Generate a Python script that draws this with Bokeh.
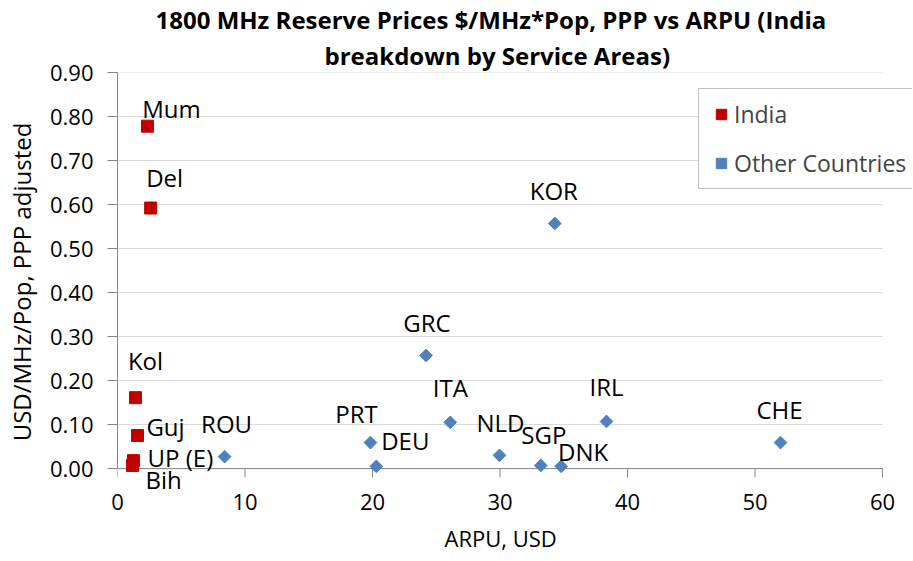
import math
from bokeh.plotting import figure
from bokeh.models import Label, Legend, LegendItem, Range1d, NumeralTickFormatter, FixedTicker, Title, ColumnDataSource
from bokeh.embed import file_html
from bokeh.resources import INLINE

# Data
india_names = ["Mum", "Del", "Kol", "Guj", "UP (E)", "Bih"]
india_arpu = [2.35, 2.6, 1.41, 1.57, 1.25, 1.18]
india_price = [0.778, 0.592, 0.161, 0.075, 0.018, 0.007]

other_names = ["ROU", "PRT", "DEU", "GRC", "ITA", "NLD", "SGP", "DNK", "KOR", "IRL", "CHE"]
other_arpu = [8.4, 19.84, 20.3, 24.2, 26.1, 29.96, 33.2, 34.8, 34.3, 38.35, 52.0]
other_price = [0.027, 0.059, 0.005, 0.257, 0.105, 0.030, 0.007, 0.005, 0.557, 0.107, 0.059]

x_ticks = [0, 10, 20, 30, 40, 50, 60]
y_ticks = [0.0, 0.1, 0.2, 0.3, 0.4, 0.5, 0.6, 0.7, 0.8, 0.9]

title_lines = ["1800 MHz Reserve Prices $/MHz*Pop, PPP vs ARPU (India", "breakdown by Service Areas)"]
x_label = "ARPU, USD"
y_label = "USD/MHz/Pop, PPP adjusted"

# label offsets (styling, screen px)
india_dx = [24, 14, 10, 28, 47, 31]
india_dy = [18, 31, 37, 9, 3, -14]
other_dx = [2, -14, 29, 1, 0, 1, 3, 22, -1, 0, -1]
other_dy = [33, 29, 26, 33, 35, 33, 31, 15, 33, 35, 33]

FONT = "Open Sans"
AXIS_GREY = "#868686"
GRID_GREY = "#d9d9d9"
PX_PER_UNIT_Y = 441.0
TICK_LEN = 9

p = figure(width=912, height=560, output_backend="svg", toolbar_location=None,
           x_range=Range1d(0, 60 * (912 - 117) / 765.0), y_range=Range1d(-23 / PX_PER_UNIT_Y, 0.9),
           min_border_left=117, min_border_right=0, min_border_top=4, min_border_bottom=68)
p.title.visible = False

t2 = Title(text=title_lines[1], align="left", text_font=FONT,
           text_font_size="24px", text_font_style="bold", text_color="#000000",
           offset=207, standoff=2)
t1 = Title(text=title_lines[0], align="left", text_font=FONT,
           text_font_size="24px", text_font_style="bold", text_color="#000000",
           offset=38, standoff=0)
p.add_layout(t2, "above")
p.add_layout(t1, "above")

xt = Title(text=x_label, align="left", text_font=FONT, text_font_size="22px",
           text_font_style="normal", text_color="#000000", offset=327, standoff=16)
p.add_layout(xt, "below")

p.outline_line_color = None
p.xgrid.grid_line_color = None
p.ygrid.grid_line_color = None

# gridlines and x axis line at y = 0, spanning the tick range only
p.segment(x0=x_ticks[0], x1=x_ticks[-1], y0=y_ticks[1:], y1=y_ticks[1:], line_color=GRID_GREY, line_width=1)
p.segment(x0=x_ticks[0], x1=x_ticks[-1], y0=y_ticks[0], y1=y_ticks[0], line_color=AXIS_GREY, line_width=1)
p.segment(x0=x_ticks, x1=x_ticks, y0=[y_ticks[0]] * len(x_ticks),
          y1=[y_ticks[0] - TICK_LEN / PX_PER_UNIT_Y] * len(x_ticks), line_color=AXIS_GREY, line_width=1)

p.xaxis.ticker = FixedTicker(ticks=x_ticks)
p.yaxis.ticker = FixedTicker(ticks=y_ticks)
p.yaxis.formatter = NumeralTickFormatter(format="0.00")
p.yaxis.bounds = (y_ticks[0], y_ticks[-1])
p.xaxis.bounds = (x_ticks[0], x_ticks[-1])
for ax in (p.xaxis, p.yaxis):
    ax.minor_tick_line_color = None
    ax.major_label_text_font = FONT
    ax.major_label_text_font_size = "22px"
    ax.major_label_text_color = "#000000"
    ax.axis_label_text_font = FONT
    ax.axis_label_text_font_size = "24px"
    ax.axis_label_text_font_style = "normal"
    ax.axis_label_text_color = "#000000"
p.yaxis.axis_line_color = AXIS_GREY
p.yaxis.major_tick_line_color = AXIS_GREY
p.yaxis.major_tick_in = 0
p.yaxis.major_tick_out = 10
p.yaxis.major_label_standoff = 14
p.yaxis.axis_label_standoff = 9
p.yaxis.axis_label = y_label

p.xaxis.axis_line_color = None
p.xaxis.major_tick_line_color = None
p.xaxis.major_tick_in = 0
p.xaxis.major_tick_out = 0
p.xaxis.major_label_standoff = 2

src_i = ColumnDataSource(dict(x=india_arpu, y=india_price))
src_o = ColumnDataSource(dict(x=other_arpu, y=other_price))

r_i = p.scatter("x", "y", source=src_i, marker="square", size=12, fill_color="#C00000", line_color="#C00000")
r_o = p.scatter("x", "y", source=src_o, marker="square", angle=math.pi / 4, size=9,
                fill_color="#4F81BD", line_color="#4F81BD")

for names, xs, ys, dxs, dys in ((india_names, india_arpu, india_price, india_dx, india_dy),
                                (other_names, other_arpu, other_price, other_dx, other_dy)):
    for n, x, y, dx, dy in zip(names, xs, ys, dxs, dys):
        p.add_layout(Label(x=x, y=y, text=n, x_offset=dx, y_offset=dy,
                           text_align="center", text_baseline="middle",
                           text_font=FONT, text_font_size="24px", text_color="#000000"))

legend = Legend(items=[LegendItem(label="India", renderers=[r_i]),
                       LegendItem(label="Other Countries", renderers=[r_o])],
                location=(581, 302), border_line_color=AXIS_GREY, background_fill_alpha=1,
                label_text_font=FONT, label_text_font_size="23px", spacing=17,
                padding=9, margin=0, glyph_width=26, glyph_height=26, label_standoff=0,
                label_width=200)
p.add_layout(legend, "center")

open("out.html", "w").write(file_html(p, INLINE))
